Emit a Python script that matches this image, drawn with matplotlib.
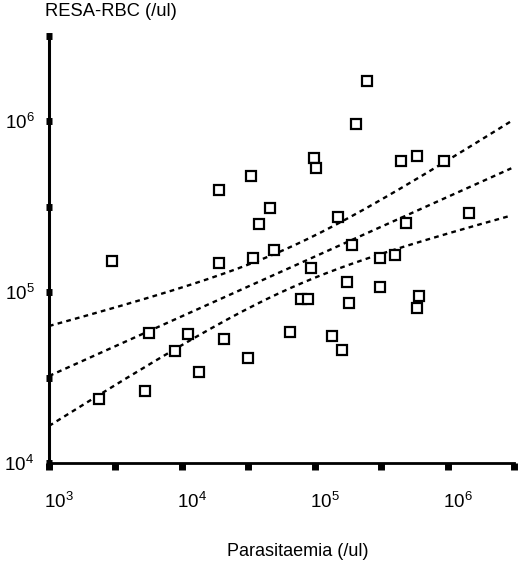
import numpy as np
import matplotlib
matplotlib.use("Agg")
import matplotlib.pyplot as plt
from matplotlib.ticker import FixedLocator, FuncFormatter, NullLocator
from matplotlib.transforms import ScaledTranslation

plt.rcParams["font.family"] = ["Liberation Sans", "DejaVu Sans"]
plt.rcParams["mathtext.fontset"] = "custom"
plt.rcParams["mathtext.rm"] = "Liberation Sans"
plt.rcParams["mathtext.it"] = "Liberation Sans"

# --- data (per ul)
parasitaemia = [
    2.46e5, 2.03e5, 9.8e4, 1.02e5, 4.44e5, 5.94e5, 9.48e5, 1.90e4,
    3.30e4, 4.59e4, 3.79e4, 1.49e5, 4.83e5, 1.44e6, 2.98e3, 1.90e4,
    3.42e4, 4.92e4, 9.33e4, 1.90e5, 1.74e5, 3.08e5, 4.00e5, 3.08e5,
    7.85e4, 8.85e4, 1.80e5, 6.15e5, 5.85e5, 6.49e4, 1.34e5, 1.60e5,
    5.65e3, 1.11e4, 8.85e3, 2.07e4, 1.34e4, 5.27e3, 3.13e4, 2.38e3,
]
resa_rbc = [
    1.71e6, 9.6e5, 6.08e5, 5.31e5, 5.83e5, 6.24e5, 5.83e5, 3.94e5,
    4.76e5, 3.10e5, 2.50e5, 2.75e5, 2.54e5, 2.90e5, 1.52e5, 1.48e5,
    1.58e5, 1.76e5, 1.38e5, 1.88e5, 1.14e5, 1.58e5, 1.64e5, 1.07e5,
    9.1e4, 9.1e4, 8.63e4, 9.48e4, 8.05e4, 5.83e4, 5.53e4, 4.58e4,
    5.75e4, 5.68e4, 4.52e4, 5.31e4, 3.40e4, 2.64e4, 4.11e4, 2.37e4,
]

# --- regression in log-log space, with its confidence band
fit_x0 = 3.0          # log10 x where intercept is read
fit_y0 = 4.509        # log10 y at fit_x0
fit_slope = 0.349
band_xm = 4.8         # log10 x of narrowest band
band_a = 0.12
band_b = 0.148

x_exp = np.linspace(3.0, 6.48, 200)
y_fit = fit_y0 + fit_slope * (x_exp - fit_x0)
half = np.sqrt(band_a ** 2 + band_b ** 2 * (x_exp - band_xm) ** 2)

fig = plt.figure(figsize=(5.2, 5.65), dpi=100)
ax = fig.add_axes([0.0942, 0.1805, 0.8942, 0.7566])

ax.plot(parasitaemia, resa_rbc, "s", mfc="white", mec="black",
        ms=6.8, mew=1.6, zorder=3)
for y in (y_fit + half, y_fit, y_fit - half):
    ax.plot(10 ** x_exp, 10 ** y, color="black", lw=1.7,
            ls=(0, (2.0, 1.8)), zorder=2)

ax.set_xscale("log")
ax.set_yscale("log")
ax.set_xlim(1e3, 10 ** 6.5)
ax.set_ylim(1e4, 10 ** 6.5)

def dec_label(v, pos):
    e = np.log10(v)
    if abs(e - round(e)) < 1e-6:
        return r"$\mathregular{10^{%d}}$" % round(e)
    return ""

ax.xaxis.set_major_locator(FixedLocator(10 ** np.arange(3, 6.51, 0.5)))
ax.yaxis.set_major_locator(FixedLocator(10 ** np.arange(4, 6.51, 0.5)))
ax.xaxis.set_minor_locator(NullLocator())
ax.yaxis.set_minor_locator(NullLocator())
ax.xaxis.set_major_formatter(FuncFormatter(dec_label))
ax.yaxis.set_major_formatter(FuncFormatter(dec_label))

ax.tick_params(axis="x", direction="out", length=5, width=5, pad=16,
               labelsize=13.5, color="black")
ax.tick_params(axis="y", direction="inout", length=5, width=5, pad=8,
               labelsize=13.5, color="black")

for sp in ("top", "right"):
    ax.spines[sp].set_visible(False)
ax.spines["left"].set_linewidth(2.2)
ax.spines["bottom"].set_linewidth(2.0)

fig.canvas.draw()
for lab in ax.get_xticklabels():
    lab.set_horizontalalignment("left")
    lab.set_transform(lab.get_transform() + ScaledTranslation(-0.045, 0, fig.dpi_scale_trans))

fig.text(45 / 520, 1 - 12 / 565, "RESA-RBC (/ul)", fontsize=13.2,
         ha="left", va="center")
fig.text(298 / 520, 1 - 551 / 565, "Parasitaemia (/ul)", fontsize=13,
         ha="center", va="center")

fig.savefig("out.png", dpi=100)
